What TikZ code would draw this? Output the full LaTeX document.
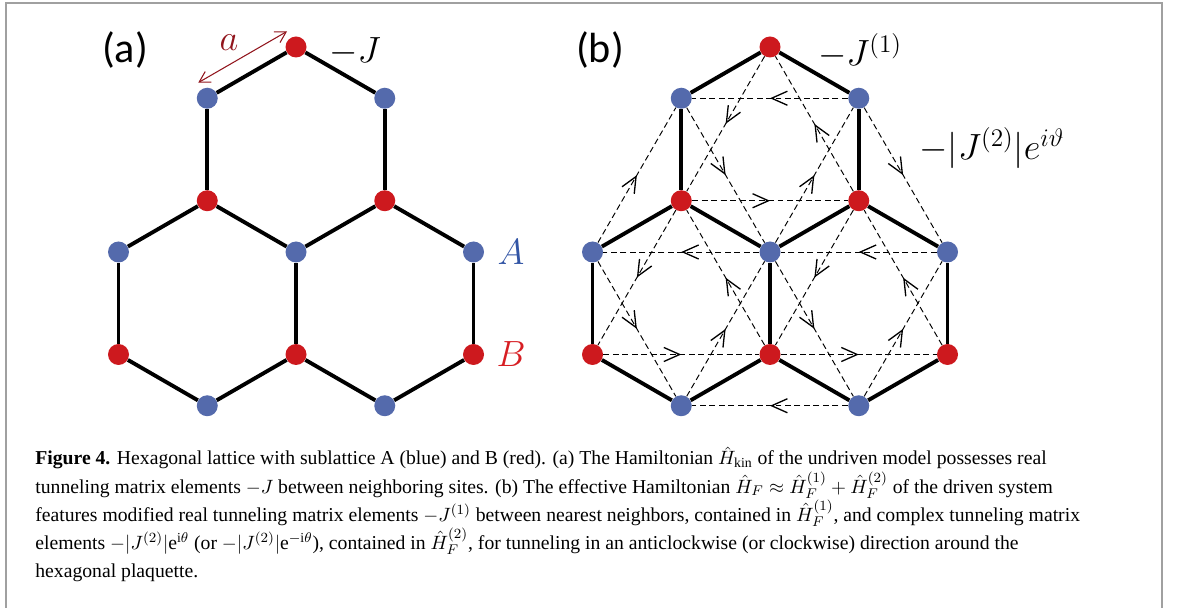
\documentclass[tikz,border=0pt]{standalone}
\usepackage{fontspec}
\setmainfont{Liberation Serif}
\newfontfamily\panelfont{Carlito}
\usetikzlibrary{arrows.meta,decorations.markings,calc,positioning}
\definecolor{siteblue}{RGB}{84,106,172}
\definecolor{sitered}{RGB}{205,25,30}
\definecolor{labelblue}{RGB}{50,85,165}
\definecolor{labelred}{RGB}{215,30,35}
\definecolor{darkred}{RGB}{145,20,28}
\definecolor{framegray}{RGB}{160,160,160}

\begin{document}
\begin{tikzpicture}[
  siteA/.style={circle,fill=siteblue,inner sep=0pt,minimum size=0.42cm},
  siteB/.style={circle,fill=sitered,inner sep=0pt,minimum size=0.42cm},
  bond/.style={line width=2.2pt},
  hop/.style={dash pattern=on 3.4pt off 2pt,line width=0.55pt,postaction={decorate},
    decoration={markings,mark=at position 0.5 with {\arrow{Straight Barb[length=9pt,width=8pt,line width=0.75pt]}}}},
  lbl/.style={inner sep=0pt,font=\fontsize{22}{26}\selectfont},
  panel/.style={inner sep=0pt,font=\panelfont\fontsize{24}{28}\selectfont},
  capline/.style={anchor=base west,inner sep=0pt,font=\fontsize{11.2}{15.5}\selectfont}
]
\useasboundingbox (0,0) rectangle (23.58,-12.16);
\draw[framegray,line width=1.1pt] (0.12,-12.16) |- (23.24,-0.06) -- (23.24,-12.16);

% both lattices
\foreach \p/\cx in {a/5.92,b/15.40}{
  \begin{scope}[shift={(\cx,-2.99)}]
    \foreach \n/\x/\y in {R0/0/2.05,R1/-1.775/-1.025,R2/1.775/-1.025,R3/-3.55/-4.1,R4/0/-4.1,R5/3.55/-4.1}
      \node[siteB] (\p\n) at (\x,\y) {};
    \foreach \n/\x/\y in {B1/-1.775/1.025,B2/1.775/1.025,B3/-3.55/-2.05,B4/0/-2.05,B5/3.55/-2.05,B6/-1.775/-5.125,B7/1.775/-5.125}
      \node[siteA] (\p\n) at (\x,\y) {};
    \foreach \u/\v in {R0/B1,R0/B2,B1/R1,B2/R2,R1/B4,R2/B4,R1/B3,B3/R3,R3/B6,B6/R4,R4/B4,R4/B7,B7/R5,R5/B5,B5/R2}
      \draw[bond] (\p\u) -- (\p\v);
  \end{scope}
}

% next-nearest neighbour hopping in (b)
\foreach \u/\v in {R0/R1,R1/R2,R2/R0,R1/R3,R3/R4,R4/R1,R2/R4,R4/R5,R5/R2,B2/B1,B1/B4,B4/B2,B3/B1,B2/B5,B4/B3,B5/B4,B3/B6,B6/B4,B4/B7,B7/B5,B7/B6}
  \draw[hop] (b\u) -- (b\v);

% lattice constant
\coordinate (aS) at ($(aB1)+(120:0.36)$);
\coordinate (aE) at ($(aR0)+(120:0.36)$);
\draw[darkred,line width=0.6pt,{Straight Barb[length=6pt,width=7pt]}-{Straight Barb[length=6pt,width=7pt]}] (aS) -- (aE);
\node[lbl,text=darkred] (alab) at (4.58,-0.86) {$a$};

\node[panel] (apanel) at (2.5,-1.0) {(a)};
\node[panel] (bpanel) at (12.0,-1.0) {(b)};
\node[lbl] (aJ) at (7.1,-1.04) {$-J$};
\node[lbl,text=labelblue,right=0.26cm of aB5] (Alab) {$A$};
\node[lbl,text=labelred,right=0.24cm of aR5] (Blab) {$B$};
\node[lbl] (bJ1) at (17.2,-1.02) {$-J^{(1)}$};
\node[lbl,font=\fontsize{20}{24}\selectfont] (bJ2) at (19.84,-2.96) {$-\bigl|J^{(2)}\bigr|e^{i\vartheta}$};

% caption
\node[capline] (cap1) at (0.70,-9.30) {\textbf{Figure 4.} Hexagonal lattice with sublattice A (blue) and B (red). (a) The Hamiltonian \smash{$\hat{H}_{\mathrm{kin}}$} of the undriven model possesses real};
\node[capline] (cap2) at (0.70,-9.86) {tunneling matrix elements $-J$ between neighboring sites. (b) The effective Hamiltonian \smash{$\hat{H}_F \approx \hat{H}_F^{(1)} + \hat{H}_F^{(2)}$} of the driven system};
\node[capline] (cap3) at (0.70,-10.42) {features modified real tunneling matrix elements \smash{$-J^{(1)}$} between nearest neighbors, contained in \smash{$\hat{H}_F^{(1)}$}, and complex tunneling matrix};
\node[capline] (cap4) at (0.70,-10.98) {elements \smash{$-|J^{(2)}|\mathrm{e}^{\mathrm{i}\theta}$} (or \smash{$-|J^{(2)}|\mathrm{e}^{-\mathrm{i}\theta}$}), contained in \smash{$\hat{H}_F^{(2)}$}, for tunneling in an anticlockwise (or clockwise) direction around the};
\node[capline] (cap5) at (0.70,-11.54) {hexagonal plaquette.};
\end{tikzpicture}
\end{document}
